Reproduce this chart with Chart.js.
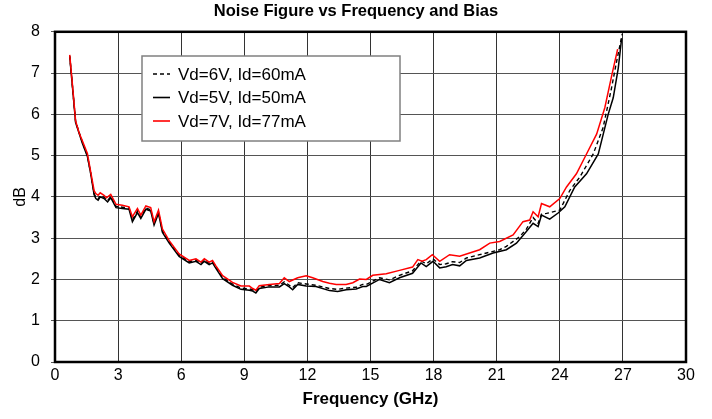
<!DOCTYPE html>
<html>
<head>
<meta charset="utf-8">
<script src="https://cdn.jsdelivr.net/npm/chart.js@4.4.1/dist/chart.umd.min.js"></script>
<style>
  body { margin: 0; background: #fff; }
  #wrap { width: 712px; height: 419px; }
</style>
</head>
<body>
<div id="wrap"><canvas id="nfChart" width="712" height="419"></canvas></div>
<script>
// Vd=6V, Id=60mA (dashed)
const freq6 = [0.7,0.98,1.3,1.54,1.7,1.86,1.94,2.05,2.15,2.33,2.5,2.65,2.9,3.2,3.52,3.68,3.92,4.08,4.32,4.55,4.71,4.92,5.11,5.43,5.9,6.38,6.7,6.94,7.1,7.33,7.49,7.65,7.97,8.44,8.84,9.24,9.4,9.55,9.71,10.19,10.67,10.9,11.14,11.3,11.54,11.94,12.41,13.05,13.44,13.84,14.32,14.63,14.8,15.43,15.9,16.38,17.0,17.4,17.65,17.97,18.29,18.6,18.9,19.24,19.56,20.19,20.83,21.14,21.46,22.1,22.41,22.73,22.97,23.13,23.37,24.0,24.48,24.95,25.59,26.06,26.46,26.7,26.97];
const nf6 = [7.42,5.82,5.33,5.0,4.57,4.08,3.99,3.95,4.03,3.99,3.91,4.01,3.77,3.75,3.73,3.44,3.66,3.51,3.73,3.69,3.35,3.63,3.17,2.91,2.59,2.43,2.47,2.39,2.47,2.39,2.43,2.30,2.05,1.89,1.79,1.77,1.75,1.70,1.81,1.85,1.86,1.94,1.86,1.80,1.92,1.89,1.86,1.78,1.76,1.79,1.81,1.88,1.88,2.04,1.99,2.10,2.21,2.45,2.38,2.50,2.36,2.38,2.43,2.41,2.52,2.60,2.68,2.72,2.80,3.04,3.22,3.50,3.36,3.58,3.60,3.68,4.16,4.48,5.04,5.68,6.64,7.28,7.95];

// Vd=5V, Id=50mA (solid black)
const freq5 = [0.7,0.85,0.98,1.3,1.54,1.7,1.86,1.94,2.05,2.15,2.33,2.5,2.65,2.9,3.2,3.52,3.68,3.92,4.08,4.32,4.55,4.71,4.92,5.11,5.43,5.9,6.38,6.7,6.94,7.1,7.33,7.49,7.65,7.97,8.44,8.84,9.24,9.4,9.55,9.71,10.19,10.67,10.9,11.14,11.3,11.54,11.94,12.41,13.05,13.44,13.84,14.32,14.63,14.8,15.43,15.9,16.38,17.0,17.4,17.65,17.97,18.29,18.6,18.9,19.24,19.56,20.19,20.83,21.46,21.94,22.41,22.73,22.97,23.13,23.52,23.92,24.24,24.71,25.27,25.83,26.3,26.54,26.78,26.94];
const nf5 = [7.4,6.55,5.8,5.3,4.98,4.55,4.05,3.96,3.92,4.0,3.96,3.88,3.98,3.74,3.72,3.70,3.40,3.62,3.48,3.70,3.66,3.32,3.60,3.14,2.88,2.56,2.40,2.44,2.36,2.44,2.36,2.40,2.27,2.02,1.86,1.76,1.74,1.72,1.67,1.78,1.82,1.82,1.90,1.82,1.75,1.88,1.84,1.83,1.73,1.71,1.75,1.77,1.83,1.83,2.0,1.92,2.04,2.15,2.40,2.31,2.44,2.28,2.31,2.36,2.33,2.46,2.52,2.64,2.72,2.88,3.16,3.36,3.28,3.56,3.46,3.61,3.76,4.24,4.56,5.04,6.0,6.40,7.12,7.84];

// Vd=7V, Id=77mA (red)
const freq7 = [0.7,0.85,0.98,1.15,1.3,1.54,1.7,1.86,1.94,2.05,2.15,2.33,2.45,2.65,2.9,3.2,3.52,3.68,3.92,4.08,4.32,4.55,4.71,4.92,5.11,5.43,5.9,6.38,6.7,6.94,7.1,7.33,7.49,7.65,7.97,8.44,8.84,9.24,9.4,9.55,9.71,10.19,10.67,10.9,11.14,11.54,11.94,12.25,12.73,13.05,13.37,13.84,14.16,14.48,14.8,15.11,15.75,16.38,17.0,17.25,17.45,17.65,17.94,18.29,18.76,19.24,19.71,20.19,20.67,21.14,21.78,22.25,22.57,22.73,22.97,23.13,23.52,24.0,24.32,24.79,25.27,25.75,26.14,26.46,26.75];
const nf7 = [7.44,6.6,5.84,5.55,5.36,5.05,4.6,4.15,4.08,4.04,4.1,4.04,3.98,4.06,3.82,3.8,3.76,3.52,3.72,3.56,3.78,3.74,3.4,3.68,3.22,2.94,2.62,2.46,2.5,2.42,2.5,2.42,2.46,2.33,2.09,1.93,1.84,1.84,1.78,1.74,1.85,1.88,1.90,2.04,1.95,2.04,2.09,2.04,1.95,1.91,1.88,1.88,1.92,2.01,2.0,2.1,2.14,2.22,2.30,2.48,2.44,2.48,2.6,2.44,2.6,2.56,2.64,2.72,2.88,2.92,3.08,3.40,3.44,3.64,3.52,3.84,3.76,3.96,4.24,4.56,5.04,5.52,6.16,6.92,7.58];

const xTicks = [0,3,6,9,12,15,18,21,24,27,30];
const yTicks = [0,1,2,3,4,5,6,7,8];

function toPoints(xs, ys) {
  return xs.map((x, i) => ({x: x, y: ys[i]}));
}

Chart.defaults.font.family = "'Liberation Sans', Arial, Helvetica, sans-serif";
Chart.defaults.color = '#000';

// legend box drawn inside the plot, upper left
const boxLegend = {
  id: 'boxLegend',
  afterDraw(chart) {
    const ctx = chart.ctx;
    const x0 = 142, y0 = 56, w = 258, h = 85;
    ctx.save();
    ctx.fillStyle = '#fff';
    ctx.fillRect(x0, y0, w, h);
    ctx.strokeStyle = '#808080';
    ctx.lineWidth = 1.5;
    ctx.strokeRect(x0, y0, w, h);
    ctx.font = "17px 'Liberation Sans', Arial, sans-serif";
    ctx.textBaseline = 'middle';
    ctx.fillStyle = '#000';
    chart.data.datasets.forEach((ds, i) => {
      const y = 74 + i * 23.5;
      ctx.beginPath();
      ctx.strokeStyle = ds.borderColor;
      ctx.lineWidth = 1.6;
      ctx.setLineDash(ds.borderDash || []);
      ctx.moveTo(153, y);
      ctx.lineTo(170, y);
      ctx.stroke();
      ctx.setLineDash([]);
      ctx.fillText(ds.label, 178, y + 1);
    });
    ctx.restore();
  }
};

// thick frame around plot area
const plotFrame = {
  id: 'plotFrame',
  afterDatasetsDraw(chart) {
    const a = chart.chartArea;
    const ctx = chart.ctx;
    ctx.save();
    ctx.strokeStyle = '#000';
    ctx.lineWidth = 2.5;
    ctx.strokeRect(a.left, a.top, a.right - a.left, a.bottom - a.top);
    ctx.restore();
  }
};

new Chart(document.getElementById('nfChart').getContext('2d'), {
  type: 'line',
  data: {
    datasets: [
      {
        label: 'Vd=6V, Id=60mA',
        data: toPoints(freq6, nf6),
        borderColor: '#000',
        borderWidth: 1.4,
        borderDash: [4, 3],
        order: 2
      },
      {
        label: 'Vd=5V, Id=50mA',
        data: toPoints(freq5, nf5),
        borderColor: '#000',
        borderWidth: 1.5,
        order: 1
      },
      {
        label: 'Vd=7V, Id=77mA',
        data: toPoints(freq7, nf7),
        borderColor: '#ff0000',
        borderWidth: 1.5,
        order: 0
      }
    ]
  },
  options: {
    responsive: false,
    animation: false,
    layout: { padding: 0 },
    elements: { point: { radius: 0 }, line: { tension: 0, fill: false } },
    plugins: {
      legend: { display: false },
      tooltip: { enabled: false },
      title: {
        display: true,
        text: 'Noise Figure vs Frequency and Bias',
        font: { size: 16.5, weight: 'bold' },
        padding: { top: 2, bottom: 10 }
      }
    },
    scales: {
      x: {
        type: 'linear',
        min: 0,
        max: 30,
        afterBuildTicks(scale) { scale.ticks = xTicks.map(v => ({value: v})); },
        afterFit(scale) { scale.height = 57; },
        ticks: { font: { size: 16 }, padding: 4, maxRotation: 0 },
        grid: { color: '#333', lineWidth: 1, drawTicks: false },
        border: { display: false },
        title: {
          display: true,
          text: 'Frequency (GHz)',
          font: { size: 17, weight: 'bold' },
          padding: { top: 0, bottom: 9 }
        }
      },
      y: {
        min: 0,
        max: 8,
        afterBuildTicks(scale) { scale.ticks = yTicks.map(v => ({value: v})); },
        afterFit(scale) { scale.width = 55; },
        ticks: { font: { size: 16 }, padding: 11 },
        grid: { color: '#555', lineWidth: 1, drawTicks: true, tickLength: 4 },
        border: { display: false },
        title: {
          display: true,
          text: 'dB',
          font: { size: 16 },
          padding: { top: 11, bottom: 0 }
        }
      },
      // empty right-hand margin so the title centres on the whole canvas
      yRight: {
        position: 'right',
        min: 0,
        max: 8,
        afterFit(scale) { scale.width = 26; },
        ticks: { display: false },
        grid: { display: false },
        border: { display: false }
      }
    }
  },
  plugins: [plotFrame, boxLegend]
});
</script>
</body>
</html>
